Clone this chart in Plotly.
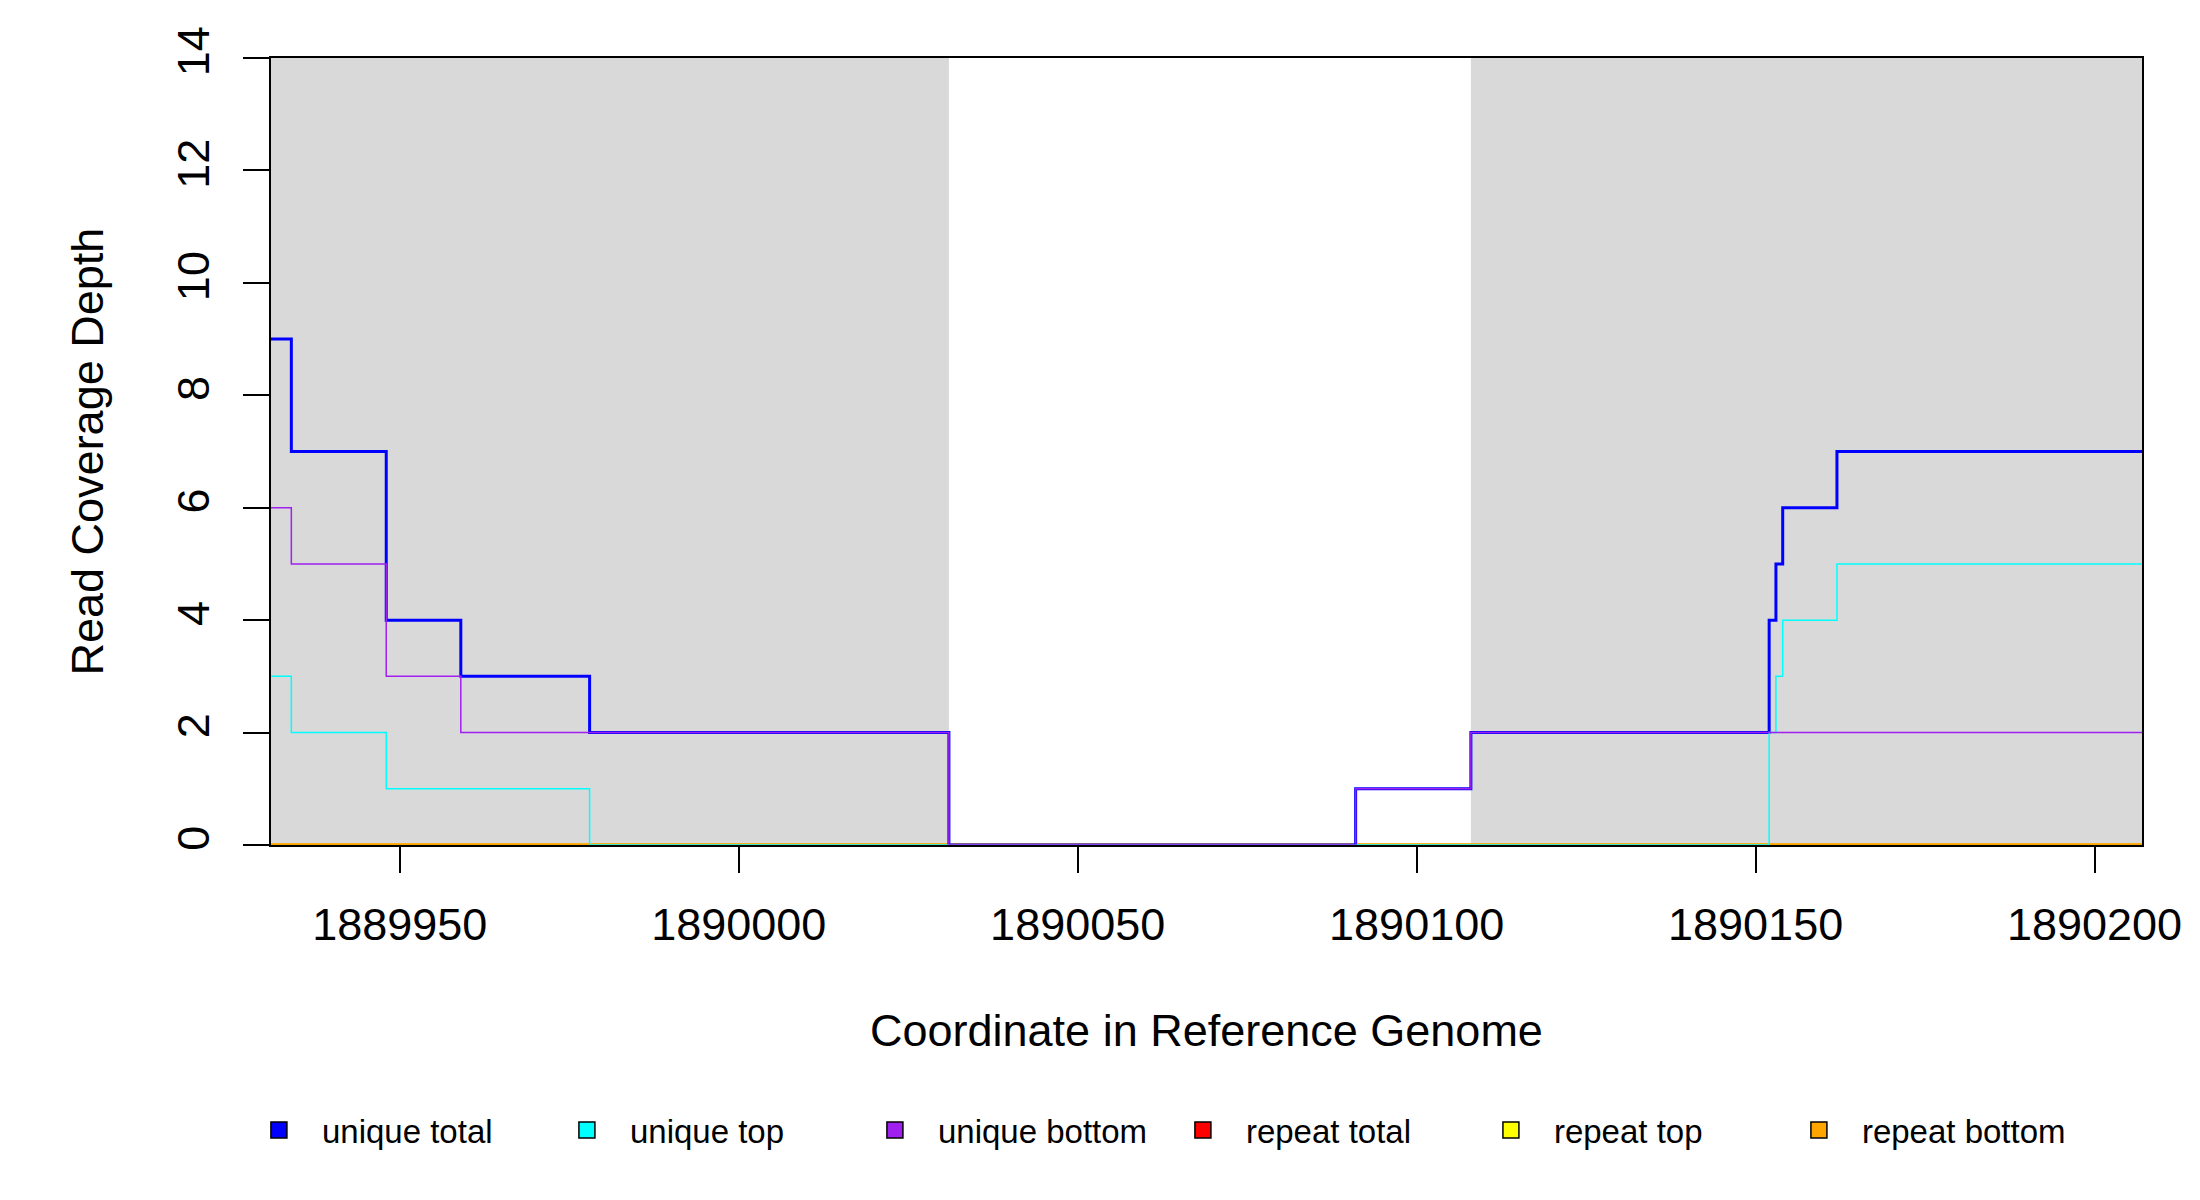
# Read coverage depth around a locus (step plot)
import plotly.graph_objects as go

# breakpoints along the reference genome and depth from each breakpoint onward
coord = [1889931, 1889934, 1889948, 1889959, 1889978, 1890031, 1890091,
         1890108, 1890152, 1890153, 1890154, 1890162, 1890207]
unique_total = [9, 7, 4, 3, 2, 0, 1, 2, 4, 5, 6, 7, 7]
unique_top = [3, 2, 1, 1, 0, 0, 0, 0, 2, 3, 4, 5, 5]
unique_bottom = [6, 5, 3, 2, 2, 0, 1, 2, 2, 2, 2, 2, 2]
repeat_total = [0] * len(coord)
repeat_top = [0] * len(coord)
repeat_bottom = [0] * len(coord)

# shaded (feature) regions on the genome
shaded_regions = [(1889931, 1890031), (1890108, 1890207)]

x_ticks = [1889950, 1890000, 1890050, 1890100, 1890150, 1890200]
y_ticks = [0, 2, 4, 6, 8, 10, 12, 14]

series_names = ["unique total", "unique top", "unique bottom",
                "repeat total", "repeat top", "repeat bottom"]
series_colors = ["#0000FF", "#00FFFF", "#A020F0", "#FF0000", "#FFFF00", "#FFA500"]

FONT = "Liberation Sans, Arial, sans-serif"

fig = go.Figure()

# repeats first, unique on top
draw = [
    (repeat_total, "#FF0000", 3),
    (repeat_top, "#FFFF00", 3),
    (repeat_bottom, "#FFA500", 3),
    (unique_total, "#0000FF", 3),
    (unique_top, "#00FFFF", 1.5),
    (unique_bottom, "#A020F0", 1.5),
]
for ys, col, w in draw:
    fig.add_trace(go.Scatter(x=coord, y=ys, mode="lines", line_shape="hv",
                             line=dict(color=col, width=w), showlegend=False,
                             hoverinfo="skip"))

# square legend keys
for name, col in zip(series_names, series_colors):
    fig.add_trace(go.Scatter(x=[None], y=[None], mode="markers", name=name,
                             marker=dict(symbol="square", size=22, color=col,
                                         line=dict(color="black", width=1.5))))

for x0, x1 in shaded_regions:
    fig.add_shape(type="rect", xref="x", yref="paper", x0=x0, x1=x1, y0=0, y1=1,
                  fillcolor="#D9D9D9", line_width=0, layer="below")

fig.add_annotation(text="Read Coverage Depth", xref="paper", yref="paper",
                   x=0, y=0.5, xshift=-184, xanchor="center", yanchor="middle",
                   textangle=-90, showarrow=False,
                   font=dict(family=FONT, size=45, color="black"))
fig.add_annotation(text="Coordinate in Reference Genome", xref="paper", yref="paper",
                   x=0.5, y=0, yshift=-185, xanchor="center", yanchor="middle",
                   showarrow=False,
                   font=dict(family=FONT, size=45, color="black"))

fig.update_layout(
    width=2200, height=1200,
    margin=dict(l=263, r=66, t=50, b=363),
    plot_bgcolor="white", paper_bgcolor="white",
    font=dict(family=FONT, color="black"),
    xaxis=dict(range=[coord[0], coord[-1]], tickvals=x_ticks,
               ticktext=[str(v) for v in x_ticks], ticks="outside", ticklen=26,
               tickwidth=1.5, tickcolor="black", ticklabelstandoff=13,
               showgrid=False, zeroline=False, showline=True, mirror=True,
               linecolor="black", linewidth=1.5,
               tickfont=dict(family=FONT, size=45, color="black")),
    yaxis=dict(range=[0, 14], tickvals=y_ticks, ticks="outside", ticklen=26,
               tickwidth=1.5, tickcolor="black", tickangle=-90,
               ticklabelstandoff=16, showgrid=False, zeroline=False,
               showline=True, mirror=True, linecolor="black", linewidth=1.5,
               tickfont=dict(family=FONT, size=45, color="black")),
    legend=dict(orientation="h", xref="container", yref="container",
                x=0.1036, y=0.065, xanchor="left", yanchor="middle",
                itemwidth=76, entrywidth=217, entrywidthmode="pixels",
                font=dict(family=FONT, size=33, color="black"),
                bgcolor="rgba(0,0,0,0)"),
)

fig.write_html("out.html")
